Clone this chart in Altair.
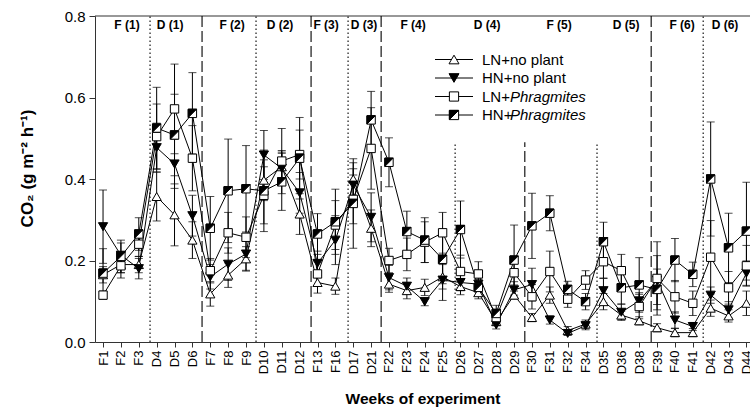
import altair as alt
import pandas as pd

weeks = ["F1","F2","F3","D4","D5","D6","F7","F8","F9","D10","D11","D12","F13","F16",
         "D17","D21","F22","F23","F24","F25","D26","D27","D28","D29","F30","F31","F32",
         "F34","D35","D36","D38","F39","F40","F41","D42","D43","D44"]

ln_np = [0.165,0.19,0.19,0.357,0.312,0.25,0.118,0.164,0.204,0.397,
         0.43,0.314,0.146,0.137,0.40,0.279,0.142,0.126,0.134,0.16,
         0.136,0.121,0.05,0.115,0.06,0.115,0.028,0.044,0.099,0.066,
         0.052,0.035,0.023,0.023,0.083,0.064,0.095]
hn_np = [0.283,0.213,0.18,0.477,0.437,0.31,0.16,0.191,0.216,0.459,
         0.426,0.366,0.193,0.25,0.385,0.306,0.158,0.137,0.099,0.152,
         0.146,0.142,0.042,0.128,0.141,0.054,0.021,0.04,0.126,0.073,
         0.101,0.152,0.054,0.038,0.115,0.079,0.169]
ln_ph = [0.115,0.187,0.24,0.504,0.572,0.451,0.175,0.268,0.257,0.36,
         0.444,0.46,0.167,0.287,0.35,0.475,0.2,0.215,0.245,0.268,
         0.173,0.167,0.06,0.17,0.111,0.173,0.105,0.152,0.197,0.175,
         0.087,0.156,0.111,0.095,0.208,0.133,0.187]
hn_ph = [0.169,0.21,0.265,0.525,0.508,0.561,0.279,0.371,0.376,0.371,
         0.393,0.451,0.265,0.295,0.34,0.545,0.441,0.271,0.25,0.203,
         0.276,0.134,0.07,0.201,0.285,0.316,0.129,0.099,0.246,0.133,
         0.14,0.129,0.201,0.166,0.4,0.231,0.272]

ln_np_se = [0.02,0.02,0.02,0.06,0.076,0.045,0.03,0.03,0.03,0.05,
            0.04,0.05,0.026,0.02,0.04,0.045,0.02,0.02,0.02,0.03,
            0.02,0.015,0.01,0.01,0.01,0.02,0.01,0.01,0.02,0.01,
            0.01,0.01,0.01,0.01,0.02,0.015,0.03]
hn_np_se = [0.09,0.03,0.025,0.06,0.06,0.05,0.03,0.04,0.04,0.06,
            0.04,0.05,0.03,0.06,0.04,0.06,0.03,0.02,0.01,0.05,
            0.02,0.02,0.01,0.02,0.04,0.01,0.005,0.01,0.03,0.02,
            0.02,0.06,0.02,0.01,0.02,0.02,0.03]
ln_ph_se = [0.01,0.03,0.03,0.08,0.11,0.08,0.03,0.05,0.05,0.07,
            0.08,0.06,0.03,0.06,0.06,0.1,0.03,0.04,0.05,0.05,
            0.04,0.03,0.015,0.03,0.03,0.05,0.02,0.023,0.04,0.04,
            0.03,0.09,0.04,0.03,0.09,0.04,0.05]
hn_ph_se = [0.06,0.04,0.04,0.1,0.1,0.1,0.078,0.127,0.106,0.1,
            0.07,0.1,0.05,0.08,0.11,0.07,0.06,0.05,0.055,0.06,
            0.07,0.02,0.02,0.086,0.08,0.043,0.02,0.02,0.048,0.04,
            0.067,0.05,0.053,0.03,0.14,0.085,0.12]

series_names = ["LN+no plant", "HN+no plant", "LN+Phragmites", "HN+Phragmites"]
series_vals = [ln_np, hn_np, ln_ph, hn_ph]
series_se = [ln_np_se, hn_np_se, ln_ph_se, hn_ph_se]

periods = ["F (1)","D (1)","F (2)","D (2)","F (3)","D (3)","F (4)","D (4)","F (5)","D (5)","F (6)","D (6)"]
period_pos = [1.34,3.75,7.22,9.9,12.48,14.6,17.35,21.49,25.52,29.27,32.4,34.8]

sep_pos = [2.63,5.54,8.56,11.64,13.71,15.56,19.7,23.6,27.64,30.67,33.58]
sep_style = ["dot","dash","dot","dash","dot","dash","dot","dash","dot","dash","dot"]
sep_top = [0.8,0.8,0.8,0.8,0.8,0.8,0.49,0.49,0.49,0.8,0.8]

FONT = "Liberation Sans"
label_expr = "[" + ",".join(f"'{w}'" for w in weeks) + "][datum.value]"

xscale = alt.Scale(domain=[-0.45, 36.2], nice=False, zero=False)
yscale = alt.Scale(domain=[0, 0.8], nice=False)
xaxis = alt.Axis(values=list(range(len(weeks))), labelExpr=label_expr, labelAngle=270,
                 labelFontSize=13, labelFont=FONT, labelColor="black", labelOverlap=False,
                 labelFlush=False, tickSize=5, tickColor="#333", domainColor="#333",
                 grid=False, title="Weeks of experiment", titleFont=FONT, titleFontSize=15.5,
                 titleFontWeight="bold", titleColor="black", titleBaseline="middle", titleY=56,
                 labelPadding=3)
yaxis = alt.Axis(values=[0, 0.2, 0.4, 0.6, 0.8], format=".1f", labelFontSize=15, labelFont=FONT,
                 labelColor="black", tickSize=6, tickColor="#333", domainColor="#333", grid=False,
                 title="CO₂ (g m⁻² h⁻¹)", titleFont=FONT, titleFontSize=17, titleFontWeight="bold",
                 titleColor="black", titleAngle=270, titleBaseline="middle", titleAlign="center",
                 titleX=-68, titleY=152, labelPadding=4, labelFlush=False)


def X(field):
    return alt.X(f"{field}:Q", scale=xscale, axis=xaxis)


def Y(field):
    return alt.Y(f"{field}:Q", scale=yscale, axis=yaxis)


rows = []
for name, vals, ses in zip(series_names, series_vals, series_se):
    for i, (v, s) in enumerate(zip(vals, ses)):
        rows.append({"series": name, "idx": i, "val": v, "lo": v - s, "hi": v + s})
df = pd.DataFrame(rows)

sep_df = pd.DataFrame({"idx": sep_pos, "style": sep_style, "top": sep_top, "bot": [0.0] * len(sep_pos)})
per_df = pd.DataFrame({"idx": period_pos, "label": periods})

layers = []

# top frame line
layers.append(alt.Chart(pd.DataFrame({"val": [0.8]})).mark_rule(color="#333", strokeWidth=1.2).encode(
    y=Y("val"), x=alt.value(0), x2=alt.value(655)))

# separators
for style, dash in [("dot", [1.5, 2.5]), ("dash", [11, 4])]:
    layers.append(alt.Chart(sep_df[sep_df["style"] == style]).mark_rule(
        color="black", strokeWidth=1.1, strokeDash=dash).encode(x=X("idx"), y=Y("bot"), y2="top:Q"))

# period labels
layers.append(alt.Chart(per_df).mark_text(font=FONT, fontSize=12, fontWeight="bold", color="black",
                                          baseline="middle").encode(x=X("idx"), y=alt.value(9), text="label:N"))

# error bars and lines
for name in series_names:
    sub = df[df["series"] == name]
    base = alt.Chart(sub)
    layers.append(base.mark_rule(color="black", strokeWidth=1).encode(x=X("idx"), y=Y("lo"), y2="hi:Q"))
    layers.append(base.mark_tick(color="black", orient="horizontal", size=8, thickness=1).encode(
        x=X("idx"), y=Y("lo")))
    layers.append(base.mark_tick(color="black", orient="horizontal", size=8, thickness=1).encode(
        x=X("idx"), y=Y("hi")))

for name in series_names:
    sub = df[df["series"] == name]
    layers.append(alt.Chart(sub).mark_line(color="black", strokeWidth=1).encode(x=X("idx"), y=Y("val")))

SQ = "M-1,-1L1,-1L1,1L-1,1Z"
HALF = "M-1,-1L1,-1L-1,1Z"
marker_defs = {
    "LN+no plant": [("triangle-up", "white", 85)],
    "HN+no plant": [("triangle-down", "black", 85)],
    "LN+Phragmites": [(SQ, "white", 70)],
    "HN+Phragmites": [(SQ, "white", 70), (HALF, "black", 70)],
}
for name in series_names:
    sub = df[df["series"] == name]
    for shape, fill, size in marker_defs[name]:
        layers.append(alt.Chart(sub).mark_point(shape=shape, filled=True, fill=fill, stroke="black",
                                                strokeWidth=1, size=size, opacity=1).encode(
            x=X("idx"), y=Y("val")))

# legend (decoration)
leg_y = [43.5, 62, 80.5, 99]
one = pd.DataFrame({"k": [0]})
for name, ly in zip(series_names, leg_y):
    layers.append(alt.Chart(one).mark_rule(color="black", strokeWidth=1).encode(
        x=alt.value(340), x2=alt.value(378), y=alt.value(ly)))
    for shape, fill, size in marker_defs[name]:
        layers.append(alt.Chart(one).mark_point(shape=shape, filled=True, fill=fill, stroke="black",
                                                strokeWidth=1, size=size + 15, opacity=1).encode(
            x=alt.value(359), y=alt.value(ly)))
    if "Phragmites" in name:
        prefix = name.split("+")[0] + "+"
        layers.append(alt.Chart(one).mark_text(font=FONT, fontSize=15, align="left", baseline="middle",
                                               color="black", text=prefix).encode(
            x=alt.value(387), y=alt.value(ly)))
        layers.append(alt.Chart(one).mark_text(font=FONT, fontSize=15, align="left", baseline="middle",
                                               color="black", fontStyle="italic", text="Phragmites").encode(
            x=alt.value(415), y=alt.value(ly)))
    else:
        layers.append(alt.Chart(one).mark_text(font=FONT, fontSize=15, align="left", baseline="middle",
                                               color="black", text=name).encode(
            x=alt.value(387), y=alt.value(ly)))

chart = alt.layer(*layers).properties(
    width=655, height=326,
    padding={"left": 95, "top": 16, "right": 0, "bottom": 67},
    autosize=alt.AutoSizeParams(type="none"),
    background="white",
).configure_view(stroke=None)

chart.save("out.html", embed_options={"renderer": "svg", "actions": False})
